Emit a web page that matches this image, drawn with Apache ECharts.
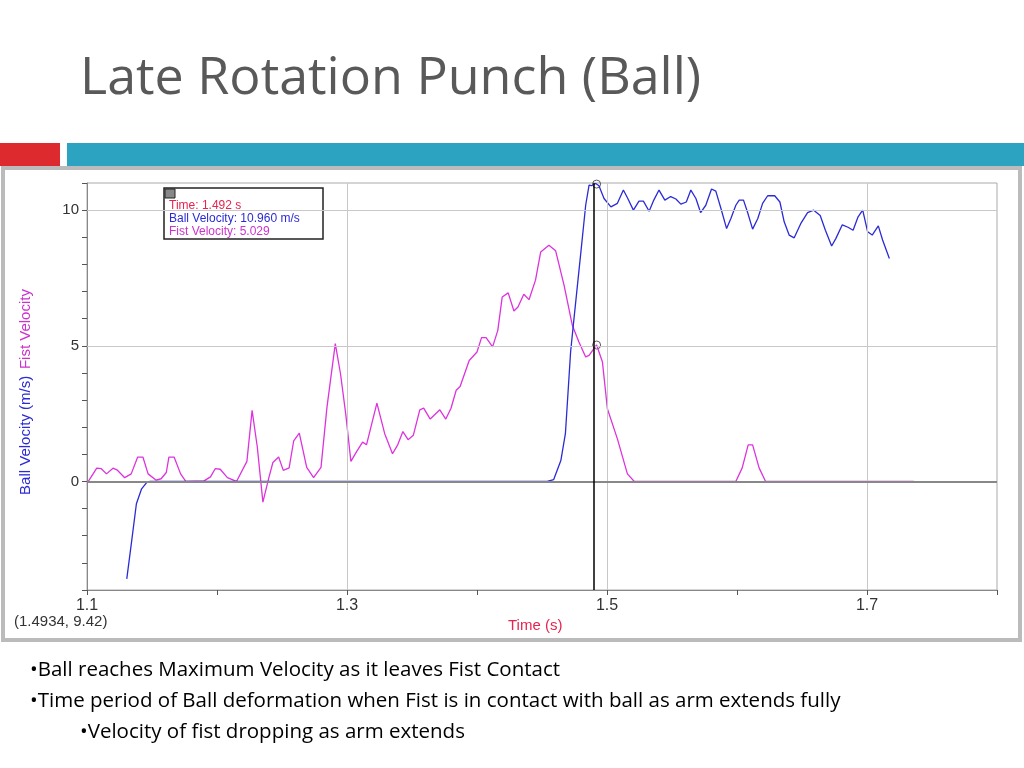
<!DOCTYPE html>
<html>
<head>
<meta charset="utf-8">
<script src="https://cdn.jsdelivr.net/npm/echarts@6/dist/echarts.min.js"></script>
<style>
  html, body { margin:0; padding:0; background:#fff; }
  #chart { width:1024px; height:768px; }
</style>
</head>
<body>
<div id="chart"></div>
<script>
// fist velocity (magenta) [time, value]
var fistT = [1.101,1.1075,1.111,1.115,1.120,1.123,1.129,1.134,1.139,1.143,1.147,1.153,1.157,1.161,1.163,1.167,1.172,1.176,1.190,1.195,1.1986,1.2025,1.208,1.215,1.223,1.227,1.231,1.2353,1.240,1.243,1.2474,1.251,1.2555,1.259,1.2633,1.269,1.2743,1.280,1.2846,1.291,1.295,1.299,1.303,1.3075,1.312,1.315,1.323,1.329,1.335,1.339,1.343,1.347,1.351,1.356,1.359,1.364,1.3714,1.376,1.380,1.384,1.387,1.394,1.400,1.4035,1.407,1.412,1.416,1.4194,1.424,1.4284,1.4315,1.436,1.440,1.445,1.449,1.4553,1.4605,1.467,1.4733,1.4784,1.4836,1.4862,1.492,1.4965,1.5003,1.508,1.5157,1.521,1.5991,1.604,1.6086,1.612,1.617,1.622,1.736];
var fistV = [0,0.49,0.47,0.28,0.49,0.43,0.14,0.28,0.9,0.9,0.28,0.05,0.1,0.33,0.9,0.9,0.28,0,0.02,0.17,0.47,0.45,0.14,0,0.74,2.62,1.27,-0.76,0.16,0.7,0.9,0.41,0.5,1.5,1.78,0.52,0.14,0.52,2.74,5.08,3.97,2.5,0.74,1.11,1.45,1.35,2.89,1.76,1.02,1.35,1.84,1.54,1.7,2.64,2.7,2.3,2.64,2.3,2.7,3.36,3.5,4.46,4.77,5.3,5.3,4.96,5.57,6.8,6.95,6.28,6.43,6.9,6.7,7.42,8.46,8.71,8.5,7.23,5.76,5.14,4.59,4.65,5.03,4.4,2.68,1.57,0.28,0,0,0.5,1.35,1.35,0.5,0,0];

// ball velocity (blue)
var ballT = [1.1306,1.1344,1.138,1.142,1.146,1.1485,1.454,1.459,1.4645,1.468,1.472,1.4746,1.4802,1.4836,1.4862,1.488,1.4913,1.4938,1.4977,1.503,1.508,1.5126,1.516,1.5203,1.5246,1.528,1.5324,1.536,1.540,1.5445,1.549,1.553,1.5568,1.561,1.5645,1.5684,1.572,1.576,1.5804,1.5837,1.5876,1.592,1.5953,1.5991,1.6017,1.605,1.608,1.612,1.616,1.6197,1.6236,1.629,1.633,1.6363,1.6401,1.644,1.649,1.6543,1.659,1.664,1.668,1.6728,1.676,1.681,1.6854,1.6893,1.693,1.6967,1.7005,1.704,1.7087,1.712,1.7172];
var ballV = [-3.59,-2.18,-0.82,-0.27,-0.03,0,0,0.07,0.77,1.76,4.77,6.0,8.59,10.18,10.92,10.9,10.98,10.9,10.43,10.12,10.25,10.74,10.43,10.0,10.33,10.33,9.96,10.37,10.74,10.37,10.5,10.41,10.22,10.3,10.74,10.43,9.91,10.18,10.78,10.7,10.07,9.32,9.69,10.18,10.37,10.37,9.94,9.3,9.69,10.25,10.53,10.53,10.3,9.57,9.08,8.98,9.5,9.91,10.0,9.8,9.26,8.68,8.95,9.46,9.37,9.26,9.74,10.0,9.2,9.08,9.42,8.9,8.22];

var xLabels = [1.1, 1.3, 1.5, 1.7];
var yLabels = [0, 5, 10];
var cursorT = 1.492;
var cursorBall = 10.96;
var cursorFist = 5.029;

function zip(a, b) { return a.map(function (v, i) { return [v, b[i]]; }); }

var myChart = echarts.init(document.getElementById('chart'));

var gridLines = [];
xLabels.slice(1).forEach(function (x) { gridLines.push({ xAxis: x }); });
gridLines.push({ yAxis: 5 }, { yAxis: 10 });

option = {
    animation: false,
    backgroundColor: '#fff',
    grid: { left: 87, right: 27, top: 183, bottom: 178, show: true, borderColor: '#aaa', borderWidth: 1 },
    xAxis: {
        type: 'value', min: 1.1, max: 1.8, interval: 0.1,
        axisLine: { onZero: false, lineStyle: { color: '#888' } },
        axisTick: { length: 5, lineStyle: { color: '#555' } },
        axisLabel: {
            color: '#333', fontSize: 16, fontFamily: 'Liberation Sans Narrow, Arial', margin: 8,
            formatter: function (v) {
                var r = Math.round(v * 10) / 10;
                return xLabels.indexOf(r) >= 0 ? String(r) : '';
            }
        },
        splitLine: { show: false }
    },
    yAxis: {
        type: 'value', min: -4, max: 11, interval: 1,
        axisLine: { show: true, lineStyle: { color: '#888' } },
        axisTick: { show: true, length: 5, lineStyle: { color: '#555' } },
        axisLabel: {
            color: '#333', fontSize: 15, fontFamily: 'Liberation Sans, Arial', margin: 8,
            formatter: function (v) { return yLabels.indexOf(v) >= 0 ? String(v) : ''; }
        },
        splitLine: { show: false }
    },
    series: [
        {
            name: 'grid', type: 'line', data: [], silent: true,
            markLine: {
                symbol: 'none', silent: true, label: { show: false },
                lineStyle: { color: '#c8c8c8', type: 'solid', width: 1 },
                data: gridLines.concat([
                    { yAxis: 0, lineStyle: { color: '#888', width: 2 } },
                    { xAxis: cursorT, lineStyle: { color: '#000', width: 1.5 } }
                ])
            }
        },
        {
            name: 'Fist Velocity', type: 'line', showSymbol: false,
            lineStyle: { color: '#dd33dd', width: 1.3 }, itemStyle: { color: '#dd33dd' },
            data: zip(fistT, fistV)
        },
        {
            name: 'Ball Velocity', type: 'line', showSymbol: false, clip: true,
            lineStyle: { color: '#2b2bd6', width: 1.3 }, itemStyle: { color: '#2b2bd6' },
            data: zip(ballT, ballV)
        },
        {
            name: 'cursor', type: 'scatter', symbol: 'circle', symbolSize: 8,
            itemStyle: { color: 'rgba(0,0,0,0)', borderColor: '#333', borderWidth: 1 },
            data: [[cursorT, Math.min(cursorBall, 11)], [cursorT, cursorFist]]
        }
    ],
    graphic: [
        { type: 'text', left: 80, top: 53, style: { text: 'Late Rotation Punch (Ball)', fill: '#595959', font: '52px "Open Sans", Lato, sans-serif' } },
        { type: 'rect', shape: { x: 0, y: 143, width: 60, height: 23 }, style: { fill: '#dd2a2f' } },
        { type: 'rect', shape: { x: 67, y: 143, width: 957, height: 23 }, style: { fill: '#2ca3c0' } },
        { type: 'rect', z: -1, shape: { x: 3, y: 168, width: 1017, height: 472 }, style: { fill: 'none', stroke: '#bbb', lineWidth: 4 } },
        { type: 'rect', shape: { x: 164, y: 188, width: 159, height: 51 }, style: { fill: '#fff', stroke: '#222', lineWidth: 1.5 } },
        { type: 'rect', shape: { x: 165, y: 189, width: 10, height: 9 }, style: { fill: '#888', stroke: '#222', lineWidth: 1 } },
        { type: 'text', left: 169, top: 200, style: { text: 'Time: 1.492 s', fill: '#e8234f', font: '12px "Liberation Sans", Arial' } },
        { type: 'text', left: 169, top: 213, style: { text: 'Ball Velocity: 10.960 m/s', fill: '#2b2bd6', font: '12px "Liberation Sans", Arial' } },
        { type: 'text', left: 169, top: 226, style: { text: 'Fist Velocity: 5.029', fill: '#cc33cc', font: '12px "Liberation Sans", Arial' } },
        {
            type: 'text', x: 18, y: 392, rotation: Math.PI / 2,
            style: {
                text: '{b|Ball Velocity (m/s)}  {f|Fist Velocity}', align: 'center', verticalAlign: 'top',
                rich: {
                    b: { fill: '#2b2bd6', font: '15px "Liberation Sans Narrow", Arial' },
                    f: { fill: '#cc33cc', font: '15px "Liberation Sans Narrow", Arial' }
                }
            }
        },
        { type: 'text', left: 14, top: 614, style: { text: '(1.4934, 9.42)', fill: '#333', font: '15px "Liberation Sans Narrow", Arial' } },
        { type: 'text', left: 508, top: 618, style: { text: 'Time (s)', fill: '#e8234f', font: '15px "Liberation Sans Narrow", Arial' } },
        { type: 'text', left: 30, top: 660, style: { text: '•Ball reaches Maximum Velocity as it leaves Fist Contact', fill: '#000', font: '20.5px "Open Sans", sans-serif' } },
        { type: 'text', left: 30, top: 691, style: { text: '•Time period of Ball deformation when Fist is in contact with ball as arm extends fully', fill: '#000', font: '20.5px "Open Sans", sans-serif' } },
        { type: 'text', left: 80, top: 722, style: { text: '•Velocity of fist dropping as arm extends', fill: '#000', font: '20.5px "Open Sans", sans-serif' } }
    ]
};

myChart.setOption(option);
</script>
</body>
</html>
